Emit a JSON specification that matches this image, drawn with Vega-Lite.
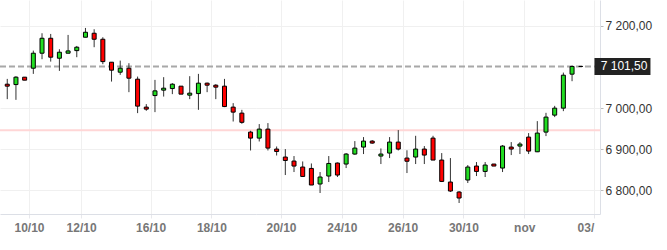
{
  "$schema": "https://vega.github.io/schema/vega-lite/v6.json",
  "width": 600,
  "height": 214,
  "autosize": "none",
  "padding": {"left": 0, "top": 0, "right": 67, "bottom": 36},
  "background": "white",
  "config": {
    "view": {"stroke": null},
    "font": "Liberation Sans",
    "locale": {"number": {"decimal": ",", "thousands": " ", "grouping": [3], "currency": ["", ""]}}
  },
  "resolve": {"axis": {"x": "independent", "y": "independent"}},
  "datasets": {
    "level": [{"price": 6946}],
    "last": [{"price": 7101.5}],
    "candles": [
      {"i":0,"open":7058.3,"high":7071.2,"low":7021.9,"close":7053.5},
      {"i":1,"open":7057.4,"high":7077.8,"low":7020.2,"close":7075.4},
      {"i":2,"open":7075.4,"high":7075.4,"low":7068.1,"close":7068.1},
      {"i":3,"open":7097.2,"high":7140.0,"low":7083.4,"close":7133.7},
      {"i":4,"open":7133.7,"high":7182.3,"low":7119.1,"close":7170.1},
      {"i":5,"open":7170.1,"high":7180.6,"low":7113.3,"close":7124.0},
      {"i":6,"open":7121.5,"high":7143.4,"low":7090.7,"close":7136.1},
      {"i":7,"open":7133.7,"high":7178.2,"low":7133.7,"close":7139.3},
      {"i":8,"open":7140.0,"high":7151.4,"low":7124.0,"close":7148.3},
      {"i":9,"open":7172.6,"high":7195.2,"low":7172.6,"close":7184.7},
      {"i":10,"open":7182.3,"high":7192.0,"low":7148.3,"close":7167.7},
      {"i":11,"open":7167.7,"high":7172.6,"low":7107.0,"close":7113.3},
      {"i":12,"open":7111.8,"high":7111.8,"low":7064.7,"close":7092.4},
      {"i":13,"open":7087.5,"high":7115.7,"low":7081.0,"close":7097.2},
      {"i":14,"open":7097.2,"high":7109.4,"low":7038.9,"close":7072.9},
      {"i":15,"open":7070.5,"high":7076.8,"low":6987.9,"close":7004.9},
      {"i":16,"open":7002.5,"high":7009.8,"low":6993.5,"close":6997.6},
      {"i":17,"open":7030.6,"high":7068.8,"low":6990.3,"close":7042.1},
      {"i":18,"open":7043.8,"high":7075.4,"low":7028.2,"close":7048.6},
      {"i":19,"open":7047.7,"high":7060.8,"low":7034.1,"close":7058.3},
      {"i":20,"open":7053.5,"high":7053.5,"low":7034.1,"close":7034.1},
      {"i":21,"open":7031.6,"high":7077.8,"low":7021.9,"close":7036.5},
      {"i":22,"open":7035.5,"high":7083.4,"low":6995.9,"close":7060.8},
      {"i":23,"open":7060.8,"high":7062.2,"low":7038.9,"close":7055.9},
      {"i":24,"open":7055.9,"high":7058.3,"low":7021.9,"close":7051.1},
      {"i":25,"open":7053.5,"high":7071.2,"low":7002.5,"close":7003.9},
      {"i":26,"open":7002.5,"high":7012.2,"low":6967.5,"close":6990.3},
      {"i":27,"open":6987.9,"high":6995.9,"low":6961.9,"close":6965.5},
      {"i":28,"open":6941.7,"high":6944.9,"low":6897.0,"close":6927.1},
      {"i":29,"open":6927.1,"high":6961.2,"low":6918.9,"close":6949.0},
      {"i":30,"open":6949.0,"high":6963.6,"low":6897.0,"close":6902.8},
      {"i":31,"open":6900.4,"high":6906.7,"low":6884.8,"close":6894.6},
      {"i":32,"open":6881.0,"high":6900.4,"low":6837.2,"close":6872.7},
      {"i":33,"open":6871.2,"high":6883.4,"low":6844.5,"close":6859.1},
      {"i":34,"open":6856.7,"high":6870.3,"low":6832.4,"close":6833.8},
      {"i":35,"open":6853.3,"high":6865.4,"low":6812.9,"close":6812.9},
      {"i":36,"open":6815.4,"high":6844.5,"low":6793.5,"close":6832.4},
      {"i":37,"open":6834.8,"high":6883.4,"low":6820.2,"close":6865.4},
      {"i":38,"open":6866.4,"high":6867.8,"low":6832.4,"close":6837.2},
      {"i":39,"open":6864.0,"high":6890.7,"low":6854.2,"close":6888.3},
      {"i":40,"open":6888.3,"high":6919.8,"low":6886.5,"close":6902.8},
      {"i":41,"open":6905.3,"high":6929.6,"low":6888.3,"close":6919.8},
      {"i":42,"open":6919.8,"high":6922.3,"low":6913.3,"close":6915.0},
      {"i":43,"open":6883.4,"high":6901.9,"low":6864.0,"close":6888.3},
      {"i":44,"open":6890.7,"high":6929.6,"low":6878.5,"close":6917.4},
      {"i":45,"open":6917.4,"high":6946.6,"low":6897.0,"close":6900.4},
      {"i":46,"open":6878.5,"high":6897.5,"low":6842.1,"close":6870.8},
      {"i":47,"open":6881.0,"high":6932.7,"low":6864.0,"close":6900.4},
      {"i":48,"open":6900.4,"high":6907.7,"low":6864.0,"close":6885.8},
      {"i":49,"open":6927.1,"high":6932.7,"low":6873.7,"close":6873.7},
      {"i":50,"open":6873.7,"high":6890.7,"low":6820.2,"close":6821.7},
      {"i":51,"open":6820.2,"high":6878.5,"low":6795.9,"close":6798.3},
      {"i":52,"open":6795.9,"high":6798.3,"low":6769.2,"close":6781.3},
      {"i":53,"open":6825.1,"high":6861.5,"low":6817.8,"close":6856.7},
      {"i":54,"open":6859.1,"high":6868.8,"low":6834.8,"close":6846.0},
      {"i":55,"open":6846.0,"high":6868.8,"low":6832.4,"close":6861.5},
      {"i":56,"open":6864.0,"high":6864.0,"low":6859.1,"close":6859.1},
      {"i":57,"open":6854.2,"high":6910.1,"low":6844.5,"close":6907.7},
      {"i":58,"open":6905.3,"high":6917.4,"low":6885.8,"close":6900.4},
      {"i":59,"open":6907.7,"high":6917.4,"low":6888.3,"close":6912.6},
      {"i":60,"open":6929.6,"high":6939.3,"low":6888.3,"close":6895.5},
      {"i":61,"open":6893.8,"high":6968.4,"low":6893.1,"close":6939.3},
      {"i":62,"open":6941.7,"high":6988.6,"low":6932.0,"close":6978.2},
      {"i":63,"open":6983.0,"high":7005.6,"low":6978.2,"close":7000.0},
      {"i":64,"open":7000.0,"high":7086.5,"low":6992.7,"close":7080.2},
      {"i":65,"open":7082.7,"high":7103.5,"low":7065.6,"close":7101.5},
      {"i":66,"open":7101.5,"high":7102.0,"low":7101.0,"close":7101.5}
    ]
  },
  "layer": [
    {
      "data": {"name": "candles"},
      "mark": {"type": "bar", "size": 4, "opacity": 0},
      "encoding": {
        "x": {
          "field": "i", "type": "quantitative",
          "scale": {"domain": [-0.26, 67.64], "nice": false, "zero": false},
          "axis": {
            "title": null,
            "values": [2.5, 8.5, 16.5, 23.5, 31.5, 38.5, 45.5, 52.5, 59.5, 67.5],
            "labelExpr": "datum.value == 2.5 ? '10/10' : datum.value == 8.5 ? '12/10' : datum.value == 16.5 ? '16/10' : datum.value == 23.5 ? '18/10' : datum.value == 31.5 ? '20/10' : datum.value == 38.5 ? '24/10' : datum.value == 45.5 ? '26/10' : datum.value == 52.5 ? '30/10' : datum.value == 59.5 ? 'nov' : '03/'",
            "grid": true,
            "gridColor": "#f0f0f0",
            "tickColor": "#e8e8ec",
            "tickSize": 4,
            "domainColor": "#dcdfe6",
            "labelColor": "#777777",
            "labelFontSize": 12,
            "labelFontWeight": "bold",
            "labelPadding": 4,
            "labelFlush": false,
            "labelOverlap": false,
            "labelAlign": {"condition": {"test": "datum.value > 67", "value": "right"}, "value": "center"}
          }
        },
        "y": {
          "field": "open", "type": "quantitative",
          "scale": {"domain": [6742.4, 7263.2], "nice": false, "zero": false},
          "axis": {
            "title": null,
            "orient": "right",
            "values": [6800, 6900, 7000, 7200],
            "format": ",.2f",
            "grid": true,
            "gridColor": "#f0f0f0",
            "tickColor": "#bbbbbb",
            "tickSize": 3,
            "domainColor": "#dcdfe6",
            "labelColor": "#333333",
            "labelFontSize": 12,
            "labelPadding": 2
          }
        },
        "y2": {"field": "close"}
      }
    },
    {
      "data": {"name": "level"},
      "mark": {"type": "rule", "color": "#ffd6d6", "strokeWidth": 2},
      "encoding": {
        "y": {"field": "price", "type": "quantitative", "scale": {"domain": [6742.4, 7263.2], "nice": false, "zero": false}, "axis": null}
      }
    },
    {
      "data": {"name": "last"},
      "mark": {"type": "rule", "color": "#a8a8a8", "strokeWidth": 2, "strokeDash": [6, 3]},
      "encoding": {
        "y": {"field": "price", "type": "quantitative", "scale": {"domain": [6742.4, 7263.2], "nice": false, "zero": false}, "axis": null}
      }
    },
    {
      "data": {"name": "candles"},
      "mark": {"type": "rule", "color": "#333333", "strokeWidth": 1},
      "encoding": {
        "x": {"field": "i", "type": "quantitative", "scale": {"domain": [-0.26, 67.64], "nice": false, "zero": false}, "axis": null},
        "y": {"field": "low", "type": "quantitative", "scale": {"domain": [6742.4, 7263.2], "nice": false, "zero": false}, "axis": null},
        "y2": {"field": "high"}
      }
    },
    {
      "data": {"name": "candles"},
      "mark": {"type": "bar", "size": 4, "stroke": "black", "strokeWidth": 1},
      "encoding": {
        "x": {"field": "i", "type": "quantitative", "scale": {"domain": [-0.26, 67.64], "nice": false, "zero": false}, "axis": null},
        "y": {"field": "open", "type": "quantitative", "scale": {"domain": [6742.4, 7263.2], "nice": false, "zero": false}, "axis": null},
        "y2": {"field": "close"},
        "fill": {"condition": {"test": "datum.close >= datum.open", "value": "#22dd22"}, "value": "#ff0000"}
      }
    },
    {
      "data": {"name": "last"},
      "mark": {"type": "tick", "orient": "horizontal", "color": "#222222", "size": 56, "thickness": 17, "opacity": 1},
      "encoding": {
        "x": {"datum": 70.8, "type": "quantitative", "scale": {"domain": [-0.26, 67.64], "nice": false, "zero": false}, "axis": null},
        "y": {"field": "price", "type": "quantitative", "scale": {"domain": [6742.4, 7263.2], "nice": false, "zero": false}, "axis": null}
      }
    },
    {
      "data": {"name": "last"},
      "mark": {"type": "text", "align": "left", "baseline": "middle", "color": "white", "fontSize": 12},
      "encoding": {
        "x": {"datum": 68.3, "type": "quantitative", "scale": {"domain": [-0.26, 67.64], "nice": false, "zero": false}, "axis": null},
        "y": {"field": "price", "type": "quantitative", "scale": {"domain": [6742.4, 7263.2], "nice": false, "zero": false}, "axis": null},
        "text": {"field": "price", "type": "quantitative", "format": ",.2f"}
      }
    }
  ]
}
